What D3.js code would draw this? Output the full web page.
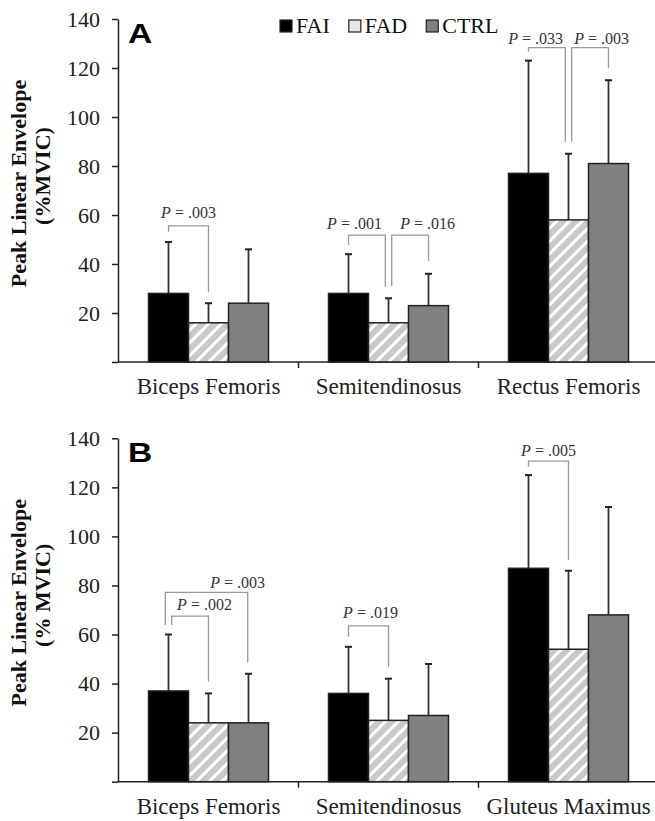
<!DOCTYPE html>
<html>
<head>
<meta charset="utf-8">
<script src="https://cdn.jsdelivr.net/npm/d3@7"></script>
<style>
  body { margin: 0; background: #fff; }
  svg { display: block; font-family: "Liberation Serif", "Times New Roman", serif; }
</style>
</head>
<body>
<div id="chart"></div>
<script>
// chart values
const series = ["FAI", "FAD", "CTRL"];
const categoriesA = ["Biceps Femoris", "Semitendinosus", "Rectus Femoris"];
const categoriesB = ["Biceps Femoris", "Semitendinosus", "Gluteus Maximus"];
const meanA = [[28, 16, 24], [28, 16, 23], [77, 58, 81]];
const sdA = [[21, 8, 22], [16, 10, 13], [46, 27, 34]];
const meanB = [[37, 24, 24], [36, 25, 27], [87, 54, 68]];
const sdB = [[23, 12, 20], [19, 17, 21], [38, 32, 44]];
const yTicks = [0, 20, 40, 60, 80, 100, 120, 140];

// significance brackets (positions in series units / data units)
const pAnnotA = [
  { cat: 0, from: 0, to: 1, top: 55.6, leftEnd: 53.2, rightEnd: 28.7, p: ".003", labelPos: 0.5, labelY: 58.6 },
  { cat: 1, from: 0, to: 0.92, top: 51.8, leftEnd: 47.8, rightEnd: 30.7, p: ".001", labelPos: 0.15, labelY: 54.2 },
  { cat: 1, from: 1.08, to: 2, top: 51.8, leftEnd: 31, rightEnd: 41.2, p: ".016", labelPos: 1.98, labelY: 54.2 },
  { cat: 2, from: 0, to: 0.92, top: 128.3, leftEnd: 126.7, rightEnd: 89.9, p: ".033", labelPos: 0.18, labelY: 129.8 },
  { cat: 2, from: 1.08, to: 2, top: 128.3, leftEnd: 89.9, rightEnd: 119.9, p: ".003", labelPos: 1.83, labelY: 129.8 }
];
const pAnnotB = [
  { cat: 0, from: 0.08, to: 1, top: 67.5, leftEnd: 63.9, rightEnd: 40.8, p: ".002", labelPos: 0.9, labelY: 70 },
  { cat: 0, from: -0.08, to: 1.98, top: 77.2, leftEnd: 63.9, rightEnd: 48.7, p: ".003", labelPos: 1.73, labelY: 78.8 },
  { cat: 1, from: 0, to: 1, top: 63.5, leftEnd: 59.1, rightEnd: 46.9, p: ".019", labelPos: 0.55, labelY: 66.6 },
  { cat: 2, from: 0, to: 1, top: 130.7, leftEnd: 128.4, rightEnd: 90.4, p: ".005", labelPos: 0.5, labelY: 132.8 }
];

const W = 655, H = 821;
const svg = d3.select("#chart").append("svg").attr("width", W).attr("height", H);

// hatch pattern for FAD
const defs = svg.append("defs");
const pat = defs.append("pattern")
  .attr("id", "hatch")
  .attr("patternUnits", "userSpaceOnUse")
  .attr("width", 9).attr("height", 9)
  .attr("patternTransform", "rotate(45)");
pat.append("rect").attr("width", 9).attr("height", 9).attr("fill", "#c9c9c9");
pat.append("rect").attr("x", 0).attr("width", 3).attr("height", 9).attr("fill", "#fff");

const fills = { FAI: "#000", FAD: "url(#hatch)", CTRL: "#808080" };

function drawPanel(cfg) {
  const g = svg.append("g");
  const y = d3.scaleLinear().domain([0, 140]).range([cfg.bottom, cfg.top]);
  const x = d3.scaleBand().domain(cfg.categories).range([118.5, 658.5]).paddingInner(1 / 3).paddingOuter(1 / 6);
  const bw = x.bandwidth();
  const gap = (x.step() - bw) / 2;
  const xs = d3.scaleBand().domain(series).range([0, bw]);
  const pos = d3.scaleLinear().domain([0, 2]).range([bw / 6, bw * 5 / 6]);

  // y axis
  const yAxis = g.append("g")
    .attr("transform", "translate(118,0)")
    .call(d3.axisLeft(y).tickValues(yTicks).tickFormat(d => d === 0 ? "" : d)
      .tickSize(6).tickPadding(12).tickSizeOuter(0));
  yAxis.select(".domain").attr("stroke", "#222").attr("stroke-width", 1.5);
  yAxis.selectAll(".tick line").attr("stroke", "#222").attr("stroke-width", 1.5);
  yAxis.selectAll(".tick text").attr("fill", "#222")
    .style("font-size", "22px").style("font-family", "'Liberation Serif', serif");

  // x axis line + boundary ticks between categories
  g.append("line")
    .attr("x1", 118).attr("x2", W)
    .attr("y1", y(0)).attr("y2", y(0))
    .attr("stroke", "#222").attr("stroke-width", 1.5);
  g.selectAll(".xtick")
    .data(cfg.categories.slice(1))
    .enter().append("line")
    .attr("x1", d => x(d) - gap)
    .attr("x2", d => x(d) - gap)
    .attr("y1", y(0)).attr("y2", y(0) + 6)
    .attr("stroke", "#222").attr("stroke-width", 1.5);
  g.selectAll(".xlab")
    .data(cfg.categories)
    .enter().append("text")
    .attr("x", d => x(d) + bw / 2)
    .attr("y", y(0) + 32)
    .attr("text-anchor", "middle")
    .attr("fill", "#222")
    .style("font-size", "23px")
    .text(d => d);

  // bars
  const groups = g.selectAll(".grp")
    .data(cfg.categories)
    .enter().append("g")
    .attr("transform", d => `translate(${x(d)},0)`);

  groups.each(function (c, ci) {
    const grp = d3.select(this);
    const rows = series.map((s, si) => ({ s, m: cfg.mean[ci][si], sd: cfg.sd[ci][si] }));
    // error bars (upper only)
    grp.selectAll(".err")
      .data(rows).enter().append("line")
      .attr("x1", d => xs(d.s) + xs.bandwidth() / 2)
      .attr("x2", d => xs(d.s) + xs.bandwidth() / 2)
      .attr("y1", d => y(d.m)).attr("y2", d => y(d.m + d.sd))
      .attr("stroke", "#333").attr("stroke-width", 1.8);
    grp.selectAll(".cap")
      .data(rows).enter().append("line")
      .attr("x1", d => xs(d.s) + xs.bandwidth() / 2 - 3.5)
      .attr("x2", d => xs(d.s) + xs.bandwidth() / 2 + 3.5)
      .attr("y1", d => y(d.m + d.sd)).attr("y2", d => y(d.m + d.sd))
      .attr("stroke", "#222").attr("stroke-width", 2);
    grp.selectAll(".bar")
      .data(rows).enter().append("rect")
      .attr("x", d => xs(d.s))
      .attr("y", d => y(d.m))
      .attr("width", xs.bandwidth())
      .attr("height", d => y(0) - y(d.m))
      .attr("fill", d => fills[d.s])
      .attr("stroke", "#222").attr("stroke-width", 1.5);
  });

  // significance brackets
  cfg.annot.forEach(a => {
    const x0 = x(cfg.categories[a.cat]);
    const xl = x0 + pos(a.from), xr = x0 + pos(a.to);
    g.append("path")
      .attr("d", `M${xl},${y(a.leftEnd)}V${y(a.top)}H${xr}V${y(a.rightEnd)}`)
      .attr("fill", "none").attr("stroke", "#999").attr("stroke-width", 1.3);
    const t = g.append("text")
      .attr("x", x0 + pos(a.labelPos))
      .attr("y", y(a.labelY))
      .attr("text-anchor", "middle")
      .attr("fill", "#333")
      .style("font-size", "16px");
    t.append("tspan").style("font-style", "italic").text("P");
    t.append("tspan").text(" = " + a.p);
  });

  // panel letter
  g.append("text")
    .attr("transform", `translate(128,${cfg.top + 24}) scale(1.2,1)`)
    .style("font-family", "'Liberation Sans', Arial, sans-serif")
    .style("font-weight", "bold")
    .style("font-size", "28px")
    .attr("fill", "#000")
    .text(cfg.letter);

  // y title
  const tg = g.append("g").style("font-weight", "bold").style("font-size", "22px").attr("fill", "#111");
  tg.append("text")
    .attr("transform", `translate(25.5,${cfg.top + 164.5}) rotate(-90)`)
    .attr("text-anchor", "middle")
    .text("Peak Linear Envelope");
  tg.append("text")
    .attr("transform", `translate(50,${cfg.top + 157}) rotate(-90)`)
    .attr("text-anchor", "middle")
    .text(cfg.unit);
}

drawPanel({ top: 19, bottom: 362, categories: categoriesA, mean: meanA, sd: sdA, annot: pAnnotA, letter: "A", unit: "(%MVIC)" });
drawPanel({ top: 438.3, bottom: 781.7, categories: categoriesB, mean: meanB, sd: sdB, annot: pAnnotB, letter: "B", unit: "(% MVIC)" });

// legend
const legend = svg.append("g").attr("transform", "translate(280,20)");
let lx = 0;
series.forEach(s => {
  const item = legend.append("g").attr("transform", `translate(${lx},0)`);
  item.append("rect")
    .attr("width", 12).attr("height", 12)
    .attr("fill", s === "FAD" ? "#e6e6e6" : fills[s])
    .attr("stroke", "#222").attr("stroke-width", 1.2);
  const t = item.append("text")
    .attr("x", 16).attr("y", 13)
    .attr("fill", "#111")
    .style("font-size", "22px")
    .text(s);
  lx += 16 + t.node().getComputedTextLength() + 19;
});
</script>
</body>
</html>
